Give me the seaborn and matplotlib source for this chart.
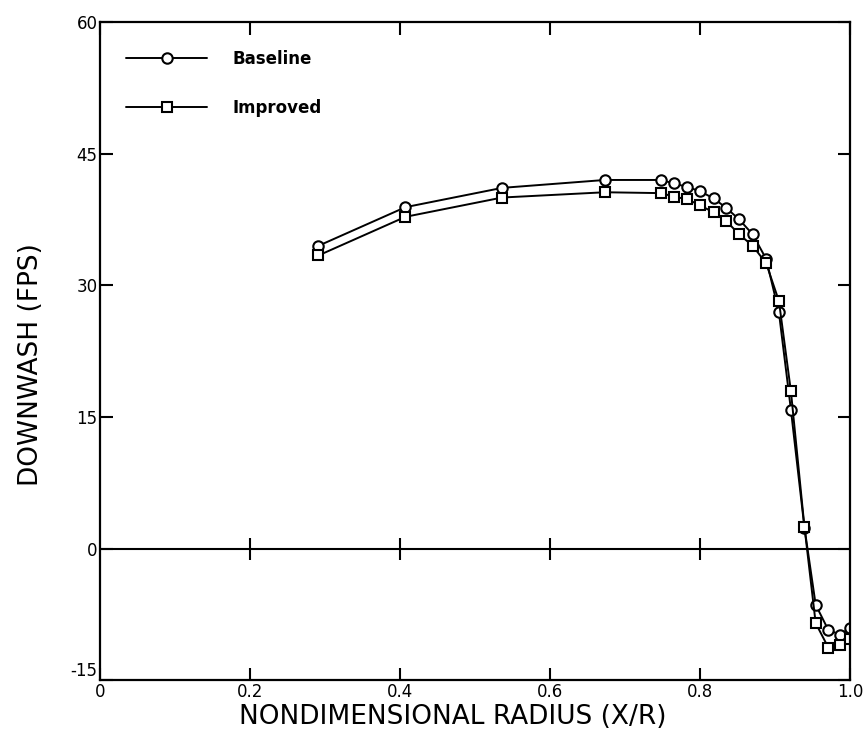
import numpy as np
import pandas as pd
import matplotlib
matplotlib.use("Agg")
import matplotlib.pyplot as plt
import seaborn as sns

# radial stations (x/R)
radius = [0.291, 0.407, 0.536, 0.673, 0.748, 0.765, 0.783, 0.800, 0.818,
          0.835, 0.852, 0.870, 0.888, 0.905, 0.921, 0.939, 0.954, 0.971,
          0.987, 1.000]

# downwash (fps)
baseline = [34.5, 38.9, 41.1, 42.0, 42.0, 41.6, 41.2, 40.7, 39.9,
            38.8, 37.5, 35.8, 33.0, 26.9, 15.8, 2.4, -6.4, -9.3,
            -9.8, -9.0]
improved = [33.4, 37.8, 40.0, 40.6, 40.5, 40.1, 39.8, 39.1, 38.3,
            37.3, 35.8, 34.5, 32.5, 28.2, 17.9, 2.5, -8.5, -11.3,
            -11.0, -10.3]

x_ticks = [0, 0.2, 0.4, 0.6, 0.8, 1.0]
x_ticklabels = ['0', '0.2', '0.4', '0.6', '0.8', '1.0']
y_ticks = [-15, 0, 15, 30, 45, 60]

df = pd.DataFrame({'radius': radius, 'Baseline': baseline, 'Improved': improved})

sns.set_style("ticks")
plt.rcParams['font.family'] = ['DejaVu Sans']
plt.rcParams['axes.unicode_minus'] = False

fig = plt.figure(figsize=(8.64, 7.33), dpi=100)
ax = fig.add_axes([0.116, 0.072, 0.868, 0.898])

line_kw = dict(color='black', linewidth=1.4, markersize=7.5,
               markerfacecolor='white', markeredgecolor='black',
               markeredgewidth=1.5, sort=False)
sns.lineplot(data=df, x='radius', y='Baseline', marker='o', ax=ax,
             label='Baseline', **line_kw)
sns.lineplot(data=df, x='radius', y='Improved', marker='s', ax=ax,
             label='Improved', **line_kw)

# zero line with crossing ticks
ax.axhline(0, color='black', linewidth=1.5, zorder=1)
ax.plot(x_ticks[1:-1], [0] * 4, linestyle='none', marker='|',
        markersize=16, markeredgewidth=1.5, color='black', zorder=1)

ax.set_xlim(0, 1.0)
ax.set_ylim(-15, 60)
ax.set_xticks(x_ticks)
ax.set_xticklabels(x_ticklabels)
ax.set_yticks(y_ticks)
ax.tick_params(direction='in', length=9, width=1.5, top=True, right=True,
               labelsize=12, pad=2, colors='black')
for s in ax.spines.values():
    s.set_linewidth(1.6)
    s.set_color('black')

# lift the bottom y label clear of the x origin label
ax.get_yticklabels()[0].set_va('bottom')

ax.set_xlabel('NONDIMENSIONAL RADIUS (X/R)', fontsize=19, color='black')
ax.set_ylabel('DOWNWASH (FPS)', fontsize=19, color='black')
ax.xaxis.set_label_coords(0.47, -0.036)
ax.yaxis.set_label_coords(-0.075, 0.479)

leg = ax.legend(loc='upper left', bbox_to_anchor=(0.035, 0.958), frameon=False,
                borderaxespad=0, borderpad=0, handlelength=4.85, handletextpad=1.5,
                labelspacing=1.9, prop={'weight': 'bold', 'size': 12})
for t in leg.get_texts():
    t.set_color('black')

fig.savefig('out.png', dpi=100)
